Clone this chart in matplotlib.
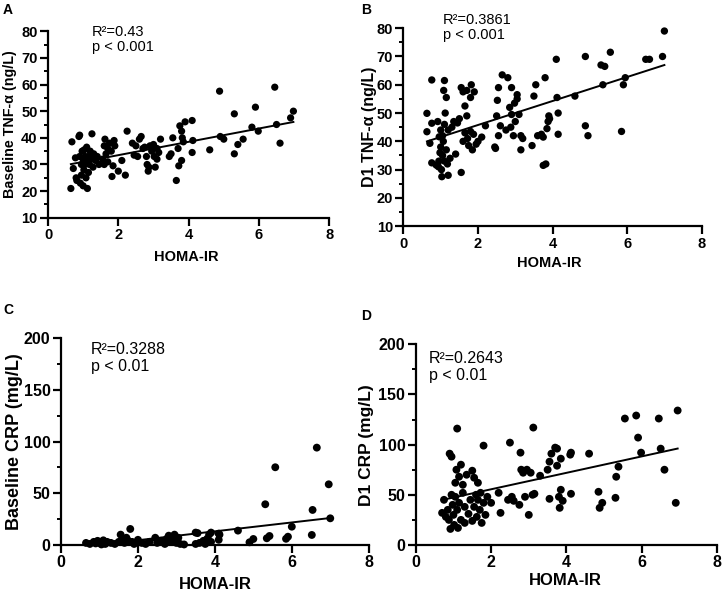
import matplotlib
matplotlib.use("Agg")
import matplotlib.pyplot as plt
from matplotlib.ticker import MultipleLocator
import numpy as np

plt.rcParams['font.family'] = ['Liberation Sans', 'DejaVu Sans']

# ---- panel A: baseline TNF-a vs HOMA-IR
a_x = [0.65, 0.68, 0.72, 0.78, 0.80, 0.82, 0.88, 0.90, 0.90, 0.92, 0.95, 0.95, 0.97, 1.00, 1.00,
       1.02, 1.03, 1.05, 1.06, 1.08, 1.10, 1.10, 1.12, 1.15, 1.15, 1.18, 1.20, 1.22, 1.25, 1.28,
       1.30, 1.35, 1.40, 1.45, 1.55, 1.60, 1.60, 1.62, 1.65, 1.70, 1.70, 1.75, 1.80, 1.82, 1.85,
       1.88, 1.90, 2.00, 2.10, 2.20, 2.25, 2.40, 2.45, 2.50, 2.55, 2.60, 2.65, 2.70, 2.75, 2.80,
       2.82, 2.85, 2.87, 2.90, 2.95, 3.00, 3.02, 3.05, 3.10, 3.10, 3.15, 3.20, 3.45, 3.50, 3.55,
       3.65, 3.70, 3.72, 3.75, 3.80, 3.80, 3.82, 3.85, 3.90, 4.10, 4.10, 4.12, 4.60, 4.88, 4.90,
       5.00, 5.30, 5.30, 5.40, 5.55, 5.80, 5.90, 5.98, 6.45, 6.50, 6.60, 6.90, 6.98]
a_y = [21.0, 38.5, 28.5, 32.5, 25.0, 24.0, 40.5, 41.0, 33.0, 23.0, 26.0, 30.0, 35.0, 32.0, 22.0,
       28.0, 35.5, 30.0, 33.0, 25.0, 31.0, 36.5, 21.0, 27.0, 33.0, 30.0, 35.0, 32.0, 41.5, 29.0,
       34.0, 31.5, 33.0, 30.0, 32.0, 37.0, 30.0, 39.5, 34.0, 36.0, 31.0, 38.0, 35.0, 25.5, 29.5,
       39.0, 37.0, 27.5, 31.5, 26.0, 42.5, 38.0, 33.5, 37.0, 33.0, 39.5, 40.5, 36.0, 36.5, 33.0,
       30.0, 27.5, 29.0, 37.0, 35.0, 37.5, 33.0, 29.0, 32.0, 36.0, 34.5, 39.5, 33.0, 34.0, 40.0,
       24.0, 36.0, 29.5, 44.5, 42.5, 31.5, 40.0, 38.5, 46.0, 46.5, 34.5, 39.0, 35.5, 57.5, 40.5,
       39.5, 49.0, 34.0, 37.5, 39.5, 44.0, 51.5, 42.5, 59.0, 45.0, 38.0, 47.5, 50.0]

# ---- panel B: D1 TNF-a vs HOMA-IR
b_x = [0.63, 0.63, 0.71, 0.76, 0.76, 0.76, 0.88, 0.92, 0.94, 0.96, 0.95, 0.98, 1.00, 1.00, 1.02,
       1.03, 1.05, 1.05, 1.07, 1.08, 1.10, 1.10, 1.10, 1.12, 1.15, 1.15, 1.18, 1.20, 1.20, 1.25,
       1.30, 1.35, 1.40, 1.45, 1.50, 1.55, 1.55, 1.60, 1.60, 1.65, 1.65, 1.70, 1.70, 1.72, 1.75,
       1.80, 1.80, 1.82, 1.85, 1.88, 1.90, 1.95, 2.00, 2.10, 2.20, 2.45, 2.47, 2.50, 2.52, 2.55,
       2.55, 2.60, 2.65, 2.75, 2.80, 2.85, 2.88, 2.90, 2.90, 2.95, 2.98, 3.00, 3.05, 3.05, 3.10,
       3.15, 3.15, 3.20, 3.45, 3.50, 3.55, 3.60, 3.70, 3.75, 3.75, 3.80, 3.82, 3.85, 3.88, 3.90,
       3.92, 4.10, 4.12, 4.15, 4.15, 4.60, 4.88, 4.88, 4.95, 5.30, 5.35, 5.40, 5.55, 5.85, 5.90,
       5.95, 6.50, 6.60, 6.95, 7.00]
b_y = [49.9, 43.4, 39.3, 61.7, 46.4, 32.4, 31.6, 47.0, 31.0, 41.6, 33.0, 36.0, 38.0, 44.0, 30.0,
       27.5, 35.0, 42.0, 40.0, 58.0, 61.5, 33.0, 46.0, 50.0, 55.5, 37.0, 32.0, 28.0, 44.0, 34.0,
       45.0, 47.0, 35.5, 46.5, 48.0, 29.0, 59.0, 57.5, 40.0, 52.5, 43.0, 49.0, 58.0, 41.0, 38.5,
       55.5, 43.5, 60.0, 37.0, 42.5, 57.5, 39.0, 40.0, 41.5, 45.5, 38.0, 37.5, 49.0, 54.5, 59.0,
       42.0, 45.5, 63.5, 44.0, 62.5, 52.0, 45.0, 49.5, 59.0, 42.0, 53.5, 47.0, 55.0, 56.5, 49.5,
       42.0, 37.0, 41.0, 38.5, 56.0, 60.0, 42.0, 42.5, 41.5, 31.5, 62.5, 32.0, 44.5, 47.0, 49.0,
       48.0, 69.0, 55.5, 50.0, 42.5, 56.0, 70.0, 45.5, 42.0, 67.0, 60.0, 66.5, 71.5, 43.5, 60.0,
       62.5, 69.0, 69.0, 70.0, 79.0]

# ---- panel C: baseline CRP vs HOMA-IR
c_x = [0.65, 0.75, 0.85, 0.90, 0.95, 1.00, 1.05, 1.10, 1.15, 1.20, 1.30, 1.40, 1.50, 1.55, 1.60,
       1.65, 1.70, 1.75, 1.80, 1.85, 1.90, 2.00, 2.10, 2.20, 2.30, 2.45, 2.50, 2.60, 2.70, 2.75,
       2.80, 2.85, 2.90, 2.95, 3.00, 3.05, 3.10, 3.20, 3.50, 3.50, 3.55, 3.60, 3.70, 3.75, 3.80,
       3.85, 3.90, 3.90, 4.10, 4.10, 4.12, 4.60, 4.90, 5.00, 5.31, 5.35, 5.42, 5.57, 5.85, 5.90,
       6.00, 6.52, 6.54, 6.65, 6.96, 7.00]
c_y = [2.0, 1.0, 3.0, 1.5, 4.0, 2.0, 0.5, 4.5, 1.0, 3.0, 2.0, 1.0, 3.0, 10.0, 5.0,
       2.0, 7.0, 4.0, 15.5, 3.0, 1.0, 5.0, 2.0, 1.0, 3.0, 7.0, 2.0, 4.0, 1.0, 6.0,
       9.0, 3.0, 5.0, 10.0, 2.0, 7.0, 1.0, 0.5, 12.0, 1.0, 11.5, 2.0, 4.0, 1.0, 6.0,
       10.0, 3.0, 12.0, 5.0, 11.0, 10.0, 13.9, 2.6, 5.8, 39.4, 6.5, 8.7, 75.2, 6.0, 8.0,
       17.7, 9.7, 33.9, 94.2, 58.7, 25.8]

# ---- panel D: D1 CRP vs HOMA-IR
d_x = [0.70, 0.75, 0.80, 0.85, 0.88, 0.90, 0.92, 0.95, 0.95, 0.98, 1.00, 1.02, 1.05, 1.05, 1.08,
       1.10, 1.10, 1.12, 1.15, 1.15, 1.20, 1.20, 1.25, 1.25, 1.30, 1.30, 1.35, 1.40, 1.45, 1.50,
       1.50, 1.55, 1.55, 1.60, 1.62, 1.65, 1.65, 1.70, 1.72, 1.75, 1.80, 1.80, 1.85, 1.90, 2.00,
       2.20, 2.25, 2.45, 2.50, 2.55, 2.60, 2.75, 2.78, 2.80, 2.85, 2.90, 2.95, 3.00, 3.05, 3.10,
       3.12, 3.15, 3.30, 3.50, 3.55, 3.55, 3.60, 3.70, 3.75, 3.75, 3.80, 3.82, 3.85, 3.85, 3.90,
       4.10, 4.12, 4.12, 4.60, 4.85, 4.88, 4.95, 5.30, 5.32, 5.38, 5.55, 5.85, 5.90, 5.98, 6.45,
       6.50, 6.60, 6.90, 6.95]
d_y = [32, 45, 28, 35, 25, 91, 16, 88, 50, 40, 30, 20, 48, 62, 75,
       116, 35, 17, 42, 68, 80, 25, 60, 52, 38, 22, 70, 31, 45, 74,
       24, 38, 67, 50, 28, 62, 45, 35, 52, 22, 99, 42, 30, 48, 42,
       52, 32, 45, 102, 48, 44, 40, 92, 75, 72, 48, 75, 30, 72, 50,
       117, 51, 69, 75, 83, 46, 91, 97, 96, 79, 48, 37, 86, 55, 44,
       90, 51, 92, 91, 53, 37, 42, 47, 68, 78, 126, 129, 107, 92, 126,
       96, 75, 42, 134]

# regression lines (slope, intercept)
fit_a = (2.5, 28.5)
fit_b = (4.24, 37.3)
fit_c = (4.3, -4.0)
fit_d = (8.2, 39.1)

panels = [
    dict(letter='A', x=a_x, y=a_y, fit=fit_a, ylabel='Baseline TNF-α (ng/L)',
         stats='R²=0.43\np < 0.001', ylim=(10, 80), major=10, minor=5,
         rect=[0.0664, 0.637, 0.389, 0.311], txt=(1.25, 82.5),
         ylab=(-0.11, 0.5), xlab=(0.49, -0.175), let=(0.004, 0.995),
         fs=11, yfs=10.3, xfs=10.5, ms=27),
    dict(letter='B', x=b_x, y=b_y, fit=fit_b, ylabel='D1 TNF-α (ng/L)',
         stats='R²=0.3861\np < 0.001', ylim=(10, 80), major=10, minor=5,
         rect=[0.558, 0.623, 0.4125, 0.330], txt=(1.05, 85.5),
         ylab=(-0.09, 0.5), xlab=(0.49, -0.15), let=(0.499, 0.995),
         fs=11, yfs=11.5, xfs=10.5, ms=28),
    dict(letter='C', x=c_x, y=c_y, fit=fit_c, ylabel='Baseline CRP (mg/L)',
         stats='R²=0.3288\np < 0.01', ylim=(0, 200), major=50, minor=25,
         rect=[0.0844, 0.0917, 0.4256, 0.3445], txt=(0.78, 196),
         ylab=(-0.125, 0.5), xlab=(0.5, -0.155), let=(0.004, 0.495),
         fs=12, yfs=13, xfs=12, ms=32),
    dict(letter='D', x=d_x, y=d_y, fit=fit_d, ylabel='D1 CRP (mg/L)',
         stats='R²=0.2643\np < 0.01', ylim=(0, 200), major=50, minor=25,
         rect=[0.575, 0.0917, 0.417, 0.3345], txt=(0.35, 193),
         ylab=(-0.14, 0.5), xlab=(0.495, -0.14), let=(0.499, 0.485),
         fs=12, yfs=12.5, xfs=12, ms=32),
]

fig = plt.figure(figsize=(7.23, 6.0), dpi=100)

for p in panels:
    ax = fig.add_axes(p['rect'])
    x = np.array(p['x'])
    y = np.array(p['y'])
    ax.scatter(x, y, s=p['ms'], color='black', edgecolors='none', zorder=3, clip_on=False)
    xs = np.array([x.min(), x.max()])
    slope, icpt = p['fit']
    ax.plot(xs, slope * xs + icpt, color='black', lw=1.4, zorder=2)

    ax.set_xlim(0, 8)
    ax.set_ylim(*p['ylim'])
    ax.xaxis.set_major_locator(MultipleLocator(2))
    ax.yaxis.set_major_locator(MultipleLocator(p['major']))
    ax.yaxis.set_minor_locator(MultipleLocator(p['minor']))
    for s in ['top', 'right']:
        ax.spines[s].set_visible(False)
    for s in ['left', 'bottom']:
        ax.spines[s].set_linewidth(1.6)
    ax.tick_params(which='major', direction='out', length=5.5, width=1.6,
                   labelsize=p['fs'] - 0.5, pad=2)
    ax.tick_params(which='minor', direction='out', length=3, width=1.4)
    for lab in ax.get_xticklabels() + ax.get_yticklabels():
        lab.set_fontweight('bold')

    ax.set_ylabel(p['ylabel'], fontsize=p['yfs'], fontweight='bold')
    ax.set_xlabel('HOMA-IR', fontsize=p['xfs'], fontweight='bold')
    ax.yaxis.set_label_coords(*p['ylab'])
    ax.xaxis.set_label_coords(*p['xlab'])

    ax.text(p['txt'][0], p['txt'][1], p['stats'], fontsize=p['fs'] - 0.5,
            va='top', ha='left', linespacing=1.15)
    fig.text(p['let'][0], p['let'][1], p['letter'], fontsize=10, fontweight='bold',
             va='top', ha='left')

fig.savefig('out.png', dpi=100)
